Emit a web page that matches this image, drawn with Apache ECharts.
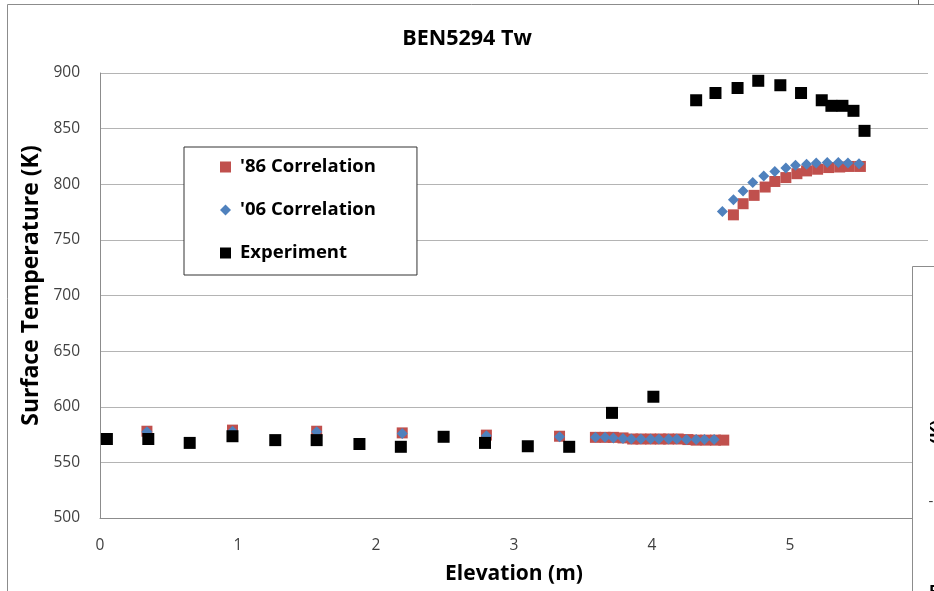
<!DOCTYPE html>
<html>
<head>
<meta charset="utf-8">
<script src="https://cdn.jsdelivr.net/npm/echarts@6/dist/echarts.min.js"></script>
<style>
  html, body { margin: 0; padding: 0; background: #fff; }
  #chart { width: 934px; height: 591px; }
</style>
</head>
<body>
<div id="chart"></div>
<script>
// Elevation (m) and wall surface temperature (K) for BEN5294
const elev86 = [0.34, 0.96, 1.57, 2.19, 2.80, 3.33,
  3.59, 3.66, 3.72, 3.79, 3.86, 3.92, 3.99, 4.06, 4.12, 4.19, 4.26, 4.32, 4.39, 4.46, 4.52,
  4.59, 4.66, 4.74, 4.82, 4.89, 4.97, 5.05, 5.12, 5.20, 5.28, 5.36, 5.43, 5.51];
const temp86 = [578, 579, 578, 576.5, 574.5, 573.5,
  572.5, 572.5, 572.5, 572, 571, 571, 571, 571, 571, 571, 570.5, 570, 570, 570, 570,
  772.5, 782.5, 790, 797.5, 802.5, 806, 809.5, 812, 813.5, 815, 815.5, 816, 816];

const elev06 = [0.34, 0.96, 1.57, 2.19, 2.80, 3.33,
  3.59, 3.66, 3.72, 3.79, 3.85, 3.92, 3.99, 4.05, 4.12, 4.18, 4.25, 4.32, 4.38, 4.45,
  4.51, 4.59, 4.66, 4.73, 4.81, 4.89, 4.97, 5.04, 5.12, 5.19, 5.27, 5.35, 5.42, 5.50];
const temp06 = [577.5, 578, 577.5, 576, 574, 573,
  572.5, 572.5, 572, 571.5, 571, 571, 571, 571, 571, 571, 570.5, 570.5, 570.5, 570.5,
  775.5, 786, 794, 801.5, 807.5, 811.5, 814.5, 817, 818, 819, 819.5, 819.5, 819, 818.5];

const elevExp = [0.05, 0.35, 0.65, 0.96, 1.27, 1.57, 1.88, 2.18, 2.49, 2.79, 3.10, 3.40, 3.71, 4.01,
  4.32, 4.46, 4.62, 4.77, 4.93, 5.08, 5.23, 5.30, 5.38, 5.46, 5.54];
const tempExp = [571, 571, 567.5, 573.5, 570, 570, 566.5, 564, 573, 567.5, 564.5, 564, 594.5, 609,
  875.5, 882, 886.5, 893, 889, 882, 875.5, 870.5, 870.5, 866, 848];

const seriesNames = ["'86 Correlation", "'06 Correlation", 'Experiment'];
const yTicks = { min: 500, max: 900, step: 50 };
const xTicks = { min: 0, max: 6, step: 1 };

const pairs = (xs, ys) => xs.map((x, i) => [x, ys[i]]);

const FONT = '"Open Sans", Lato, sans-serif';
const chart = echarts.init(document.getElementById('chart'), null, { renderer: 'canvas' });

chart.setOption({
  backgroundColor: '#ffffff',
  animation: false,
  title: {
    text: 'BEN5294 Tw',
    left: 'center',
    top: 23,
    textStyle: { fontFamily: FONT, fontSize: 21.5, fontWeight: 'bold', color: '#000' }
  },
  grid: { left: 100, right: 6, top: 73, bottom: 73, containLabel: false },
  legend: {
    orient: 'vertical',
    left: 184,
    top: 147,
    padding: [10, 41, 12, 36],
    itemGap: 23,
    itemWidth: 11,
    itemHeight: 11,
    backgroundColor: '#fff',
    borderColor: '#333',
    borderWidth: 1,
    textStyle: { fontFamily: FONT, fontSize: 18.5, fontWeight: 'bold', color: '#000',
                 lineHeight: 20, padding: [0, 0, 0, 4] },
    data: [
      { name: seriesNames[0], icon: 'rect' },
      { name: seriesNames[1], icon: 'diamond' },
      { name: seriesNames[2], icon: 'rect' }
    ]
  },
  xAxis: {
    type: 'value',
    min: xTicks.min,
    max: xTicks.max,
    interval: xTicks.step,
    name: 'Elevation (m)',
    nameLocation: 'middle',
    nameGap: 46,
    nameTextStyle: { fontFamily: FONT, fontSize: 21, fontWeight: 'bold', color: '#000' },
    axisLine: { show: true, onZero: false, lineStyle: { color: '#8c8c8c', width: 1 } },
    axisTick: { show: false },
    splitLine: { show: false },
    axisLabel: { margin: 20, showMaxLabel: false, fontFamily: FONT, fontSize: 15.5, color: '#404040' }
  },
  yAxis: {
    type: 'value',
    min: yTicks.min,
    max: yTicks.max,
    interval: yTicks.step,
    name: 'Surface Temperature (K)',
    nameLocation: 'middle',
    nameGap: 51,
    nameRotate: 90,
    nameTextStyle: { fontFamily: FONT, fontSize: 23, fontWeight: 'bold', color: '#000',
                     padding: [0, 0, 0, 20] },
    axisLine: { show: true, lineStyle: { color: '#8c8c8c', width: 1 } },
    axisTick: { show: false },
    splitLine: { show: true, lineStyle: { color: '#b4b4b4', width: 1 } },
    axisLabel: { margin: 20, fontFamily: FONT, fontSize: 15.5, color: '#404040' }
  },
  series: [
    {
      name: seriesNames[0],
      type: 'scatter',
      symbol: 'rect',
      symbolSize: 11,
      itemStyle: { color: '#C0504D', opacity: 1 },
      data: pairs(elev86, temp86),
      z: 2
    },
    {
      name: seriesNames[1],
      type: 'scatter',
      symbol: 'diamond',
      symbolSize: 11,
      itemStyle: { color: '#4F81BD', opacity: 1 },
      data: pairs(elev06, temp06),
      z: 3
    },
    {
      name: seriesNames[2],
      type: 'scatter',
      symbol: 'rect',
      symbolSize: 12,
      itemStyle: { color: '#000000', opacity: 1 },
      data: pairs(elevExp, tempExp),
      z: 4
    }
  ],
  graphic: [
    // outer chart frame
    {
      type: 'rect', z: 100, silent: true,
      shape: { x: 7.5, y: 4.5, width: 1000, height: 1000 },
      style: { fill: null, stroke: '#8c8c8c', lineWidth: 1 }
    },
    {
      type: 'line', z: 100, silent: true,
      shape: { x1: 918.5, y1: 0, x2: 918.5, y2: 5 },
      style: { stroke: '#666', lineWidth: 1 }
    },
    // neighbouring panel overlapping the right edge
    {
      type: 'group', z: 100, silent: true,
      children: [
        {
          type: 'rect', z: 100,
          shape: { x: 912.5, y: 266.5, width: 200, height: 400 },
          style: { fill: '#fff', stroke: '#8c8c8c', lineWidth: 1 }
        },
        {
          type: 'text', z: 101,
          x: 938, y: 432, rotation: Math.PI / 2,
          style: { text: '(K)', fontFamily: FONT, fontSize: 18, fontWeight: 'bold', fill: '#000',
                   align: 'center', verticalAlign: 'middle' }
        },
        {
          type: 'text', z: 101,
          x: 931, y: 502,
          style: { text: '-', fontFamily: FONT, fontSize: 15, fill: '#333',
                   align: 'center', verticalAlign: 'middle' }
        },
        {
          type: 'text', z: 101,
          x: 929, y: 592,
          style: { text: 'E', fontFamily: FONT, fontSize: 16, fontWeight: 'bold', fill: '#000',
                   align: 'left', verticalAlign: 'middle' }
        }
      ]
    }
  ]
});
</script>
</body>
</html>
